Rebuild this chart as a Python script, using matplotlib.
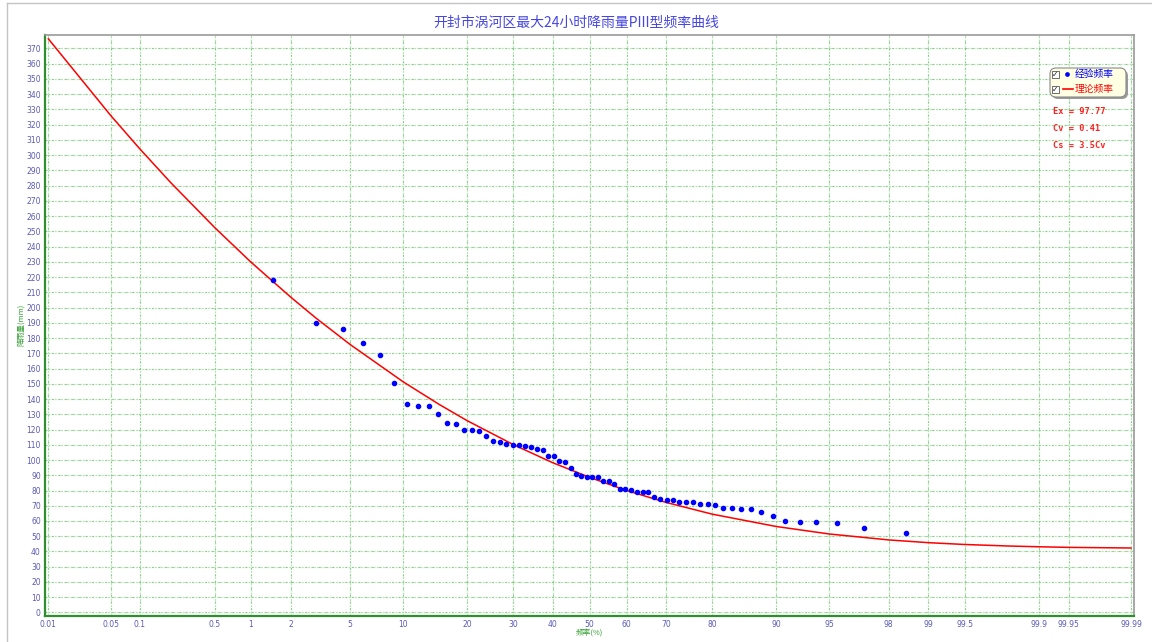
import matplotlib
matplotlib.use("Agg")
import matplotlib.pyplot as plt
from matplotlib.patches import FancyBboxPatch, Rectangle
from matplotlib.lines import Line2D
from matplotlib.transforms import IdentityTransform
from statistics import NormalDist

# ---------------- data ----------------
title = "开封市涡河区最大24小时降雨量PIII型频率曲线"
x_label = "频率(%)"
y_label = "降雨量(mm)"

tick_probs = [0.01, 0.05, 0.1, 0.5, 1, 2, 5, 10, 20, 30, 40, 50, 60, 70, 80,
              90, 95, 98, 99, 99.5, 99.9, 99.95, 99.99]
tick_labels = ["0.01", "0.05", "0.1", "0.5", "1", "2", "5", "10", "20", "30",
               "40", "50", "60", "70", "80", "90", "95", "98", "99", "99.5",
               "99.9", "99.95", "99.99"]
y_ticks = list(range(0, 371, 10))

# empirical frequency (%) and rainfall (mm)
emp_p = [1.49, 2.99, 4.48, 5.97, 7.46, 8.96, 10.45, 11.94, 13.43, 14.93,
         16.42, 17.91, 19.40, 20.90, 22.39, 23.88, 25.37, 26.87, 28.36, 29.85,
         31.34, 32.84, 34.33, 35.82, 37.31, 38.81, 40.30, 41.79, 43.28, 44.78,
         46.27, 47.76, 49.25, 50.75, 52.24, 53.73, 55.22, 56.72, 58.21, 59.70,
         61.19, 62.69, 64.18, 65.67, 67.16, 68.66, 70.15, 71.64, 73.13, 74.63,
         76.12, 77.61, 79.10, 80.60, 82.09, 83.58, 85.07, 86.57, 88.06, 89.55,
         91.04, 92.54, 94.03, 95.52, 97.01, 98.51]
emp_v = [218.0, 189.7, 186.1, 176.5, 168.9, 150.3, 136.7, 135.4, 135.2, 130.0,
         124.5, 123.8, 119.9, 119.5, 119.0, 115.5, 112.5, 112.0, 110.3, 110.0,
         109.8, 109.0, 108.7, 107.0, 106.6, 102.8, 102.8, 99.5, 98.7, 94.8,
         90.8, 89.7, 88.9, 88.9, 88.7, 86.2, 86.0, 84.1, 81.2, 80.8,
         80.5, 79.2, 79.0, 79.0, 75.5, 74.6, 73.8, 73.6, 72.7, 72.3,
         72.3, 71.3, 71.0, 70.5, 68.7, 68.7, 67.9, 67.9, 65.7, 63.1,
         60.0, 59.2, 59.2, 58.7, 55.4, 52.3]

# theoretical P-III curve (%) and rainfall (mm)
theo_p = [0.01, 0.05, 0.1, 0.2, 0.5, 1, 2, 3, 5, 10, 15, 20, 30, 40, 50, 60,
          70, 80, 90, 95, 98, 99, 99.5, 99.8, 99.9, 99.95, 99.99]
theo_v = [376.2, 325.9, 304.0, 281.9, 252.4, 229.7, 206.8, 193.1, 175.7, 151.3,
          136.6, 125.8, 110.1, 98.2, 88.6, 80.0, 72.2, 64.5, 56.4, 51.5, 47.6,
          45.8, 44.6, 43.6, 43.1, 42.7, 42.3]

legend_names = ["经验频率", "理论频率"]
stat_lines = ["Ex = 97.77", "Cv = 0.41", "Cs = 3.5Cv"]

# ---------------- plotting ----------------
CJK = ["Noto Sans CJK SC", "DejaVu Sans"]
nd = NormalDist()


def zq(ps):
    return [nd.inv_cdf(p / 100.0) for p in ps]


W, H = 1152, 642
fig = plt.figure(figsize=(W / 100, H / 100), dpi=100)
fig.patch.set_facecolor("white")

ax_l, ax_r, ax_t, ax_b = 45, 1134.3, 35, 615.5
ax = fig.add_axes([ax_l / W, (H - ax_b) / H, (ax_r - ax_l) / W, (ax_b - ax_t) / H])
ax.set_xlim(-3.742, 3.742)
ax.set_ylim(-1.97, 378.7)

tick_color = "#5a5ab8"
ax.set_xticks(zq(tick_probs))
ax.set_xticklabels(tick_labels)
ax.set_yticks(y_ticks)
ax.set_yticklabels([str(v) for v in y_ticks])
ax.tick_params(axis="both", length=0, labelsize=5.5, labelcolor=tick_color, pad=3)

# grid: light dotted layer plus darker sparse dashes
ax.grid(True, which="major", color="#b4e2b4", linestyle=(0, (1.5, 1)), linewidth=0.9)
for zx in zq(tick_probs):
    ax.axvline(zx, color="#7cc47c", linestyle=(0, (2, 6)), linewidth=0.6, zorder=0.6)
for yv in y_ticks:
    ax.axhline(yv, color="#7cc47c", linestyle=(0, (2, 6)), linewidth=0.6, zorder=0.6)
ax.set_axisbelow(True)

for s in ["left", "bottom"]:
    ax.spines[s].set_color("#2f8f2f")
    ax.spines[s].set_linewidth(1.6)
for s in ["top", "right"]:
    ax.spines[s].set_color("#9a9a9a")
    ax.spines[s].set_linewidth(1.2)

ax.plot(zq(theo_p), theo_v, color="#ff0000", linewidth=1.1, zorder=3)
ax.plot(zq(emp_p), emp_v, linestyle="none", marker="o", markersize=3.0,
        markerfacecolor="#0000ff", markeredgecolor="#0000ff", zorder=4)

# title and axis labels
fig.text(576 / W, 1 - 23 / H, title, ha="center", va="center", fontsize=10,
         color="#4646e0", family=CJK)
fig.text(589 / W, 1 - 633 / H, x_label, ha="center", va="center", fontsize=5.5,
         color="#33a033", family=CJK)
fig.text(21 / W, 1 - 325 / H, y_label, ha="center", va="center", fontsize=5.5,
         color="#33a033", family=CJK, rotation=90)

# outer frame (top and left only)
idt = IdentityTransform()
fig.add_artist(Line2D([7.3, W], [H - 3.3, H - 3.3], color="#c4c4c4", lw=1.0, transform=idt))
fig.add_artist(Line2D([7.3, 7.3], [0, H - 3.3], color="#c4c4c4", lw=1.0, transform=idt))

# legend box (pixel coords)
bx0, bx1, by0, by1 = 1050, 1126, 68, 97
shadow = FancyBboxPatch((bx0 + 2, H - by1 - 2), bx1 - bx0, by1 - by0,
                        boxstyle="round,pad=0,rounding_size=6", transform=idt,
                        facecolor="#9a9a9a", edgecolor="none", zorder=5)
box = FancyBboxPatch((bx0, H - by1), bx1 - bx0, by1 - by0,
                     boxstyle="round,pad=0,rounding_size=6", transform=idt,
                     facecolor="#ffffe4", edgecolor="#8a8a8a", linewidth=0.8, zorder=6)
fig.add_artist(shadow)
fig.add_artist(box)

rows_y = [74, 89]
colors = ["#0000ff", "#ff0000"]
for i, yy in enumerate(rows_y):
    yd = H - yy
    fig.add_artist(Rectangle((1051.5, yd - 3.5), 7, 7, transform=idt,
                             facecolor="white", edgecolor="#555555", lw=0.6, zorder=7))
    fig.text(1055 / W, yd / H, "✓", ha="center", va="center", fontsize=5.5,
             color="#222222", family=["DejaVu Sans"], zorder=8, fontweight="bold")
    if i == 0:
        fig.add_artist(Line2D([1067], [yd], marker="o", markersize=2.4, color=colors[i],
                              linestyle="none", transform=idt, zorder=8))
    else:
        fig.add_artist(Line2D([1063, 1073], [yd, yd], color=colors[i], lw=1.2,
                              transform=idt, zorder=8))
    fig.text(1075 / W, yd / H, legend_names[i], ha="left", va="center", fontsize=7,
             color=colors[i], family=CJK, zorder=8)

for i, s in enumerate(stat_lines):
    fig.text(1053 / W, 1 - (112 + 16.5 * i) / H, s, ha="left", va="center",
             fontsize=6.2, color="#ff2020", family=["DejaVu Sans Mono"], fontweight="bold")

fig.savefig("out.png", dpi=100)
